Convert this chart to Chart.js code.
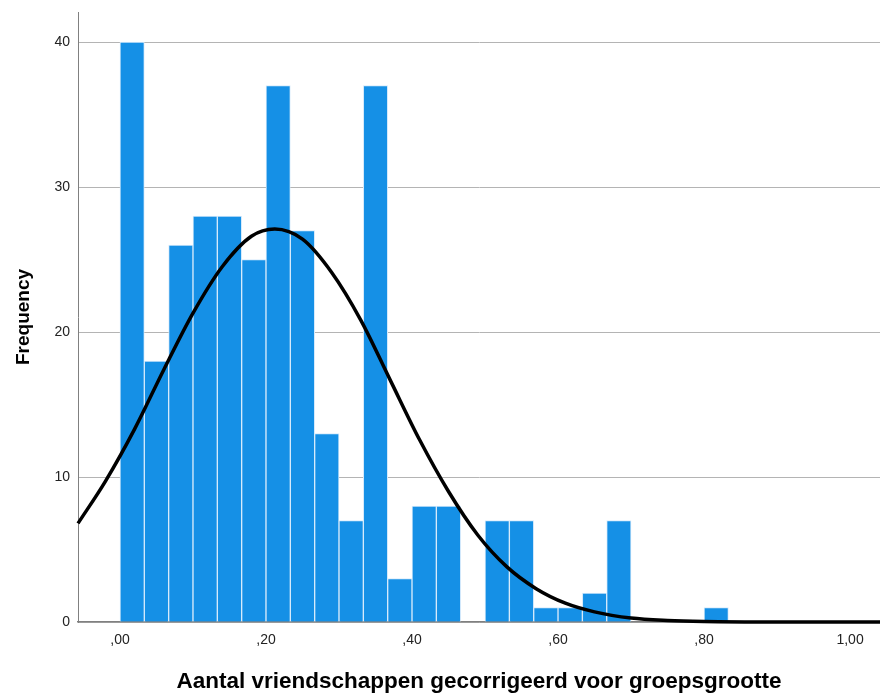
<!DOCTYPE html>
<html>
<head>
<meta charset="utf-8">
<script src="https://cdn.jsdelivr.net/npm/chart.js@4/dist/chart.umd.min.js"></script>
<style>
  html, body { margin: 0; padding: 0; background: #fff; }
  #wrap { width: 880px; height: 693px; position: relative; }
</style>
</head>
<body>
<div id="wrap"><canvas id="c" width="880" height="693"></canvas></div>
<script>
// Histogram bins: lower edge of each bin (bin width 1/30) and its frequency
const binWidth = 1 / 30;
const binStarts = [0, 1, 2, 3, 4, 5, 6, 7, 8, 9, 10, 11, 12, 13, 14, 15, 16, 17, 18, 19, 20, 21, 22, 23, 24].map(i => i * binWidth);
const frequencies = [40, 18, 26, 28, 28, 25, 37, 27, 13, 7, 37, 3, 8, 8, 0, 7, 7, 1, 1, 2, 7, 0, 0, 0, 1];

// Normal curve overlay, sampled points (x, expected frequency)
const curveX = [-0.0575, -0.02, 0.02, 0.06, 0.10, 0.14, 0.18, 0.212, 0.25, 0.29, 0.33, 0.37, 0.41, 0.45, 0.49, 0.53, 0.57, 0.61, 0.65, 0.70, 0.75, 0.80, 0.90, 1.041];
const curveY = [6.8, 9.7, 13.3, 17.4, 21.3, 24.5, 26.6, 27.1, 26.4, 24.1, 20.8, 16.7, 12.6, 9.0, 6.0, 3.8, 2.3, 1.3, 0.7, 0.27, 0.1, 0.03, 0, 0];

// Axis ticks
const xTicks = [0, 0.2, 0.4, 0.6, 0.8, 1.0];
const xTickLabels = [',00', ',20', ',40', ',60', ',80', '1,00'];
const yTicks = [0, 10, 20, 30, 40];

const xTitle = 'Aantal vriendschappen gecorrigeerd voor groepsgrootte';
const yTitle = 'Frequency';

const barPoints = binStarts.map((s, i) => ({ x: s + binWidth / 2, y: frequencies[i] }));
const curvePoints = curveX.map((x, i) => ({ x: x, y: curveY[i] }));

const FONT = "'Liberation Sans', Arial, sans-serif";

new Chart(document.getElementById('c'), {
  data: {
    datasets: [
      {
        type: 'line',
        data: curvePoints,
        borderColor: '#000',
        borderWidth: 3.5,
        pointRadius: 0,
        cubicInterpolationMode: 'monotone',
        fill: false,
        clip: false,
        order: 0
      },
      {
        type: 'bar',
        data: barPoints,
        backgroundColor: '#1590e6',
        borderColor: '#d6eafb',
        borderWidth: 1,
        borderSkipped: 'bottom',
        barPercentage: 1,
        categoryPercentage: 1,
        order: 1
      }
    ]
  },
  options: {
    responsive: false,
    animation: false,
    devicePixelRatio: 1,
    layout: { padding: { top: 12, right: 0, left: 0, bottom: 0 } },
    plugins: {
      legend: { display: false },
      tooltip: { enabled: false }
    },
    scales: {
      x: {
        type: 'linear',
        offset: false,
        min: -0.0575,
        max: 1.041,
        afterBuildTicks: (s) => { s.ticks = xTicks.map(v => ({ value: v })); },
        afterFit: (s) => { s.height = 71; s.paddingLeft = 0; s.paddingRight = 0; },
        ticks: {
          autoSkip: false,
          maxRotation: 0,
          padding: 10,
          color: '#222',
          font: { family: FONT, size: 14 },
          callback: (v) => {
            const i = xTicks.findIndex(t => Math.abs(t - v) < 1e-9);
            return i >= 0 ? xTickLabels[i] : '';
          }
        },
        grid: { display: false, drawTicks: false },
        border: { display: true, color: '#808080', width: 1.5 },
        title: {
          display: true,
          text: xTitle,
          color: '#000',
          font: { family: FONT, size: 22.5, weight: 'bold' },
          padding: { top: 18, bottom: -2 }
        }
      },
      y: {
        min: 0,
        max: 42.07,
        afterBuildTicks: (s) => { s.ticks = yTicks.map(v => ({ value: v })); },
        afterFit: (s) => { s.width = 78; s.paddingTop = 0; s.paddingBottom = 0; },
        ticks: {
          padding: 8,
          color: '#222',
          font: { family: FONT, size: 14 }
        },
        grid: { color: '#b4b4b4', lineWidth: 1, drawTicks: false },
        border: { display: true, color: '#808080', width: 1 },
        title: {
          display: true,
          text: yTitle,
          color: '#000',
          font: { family: FONT, size: 19, weight: 'bold' },
          padding: { top: 12, bottom: 0 }
        }
      }
    }
  }
});
</script>
</body>
</html>
